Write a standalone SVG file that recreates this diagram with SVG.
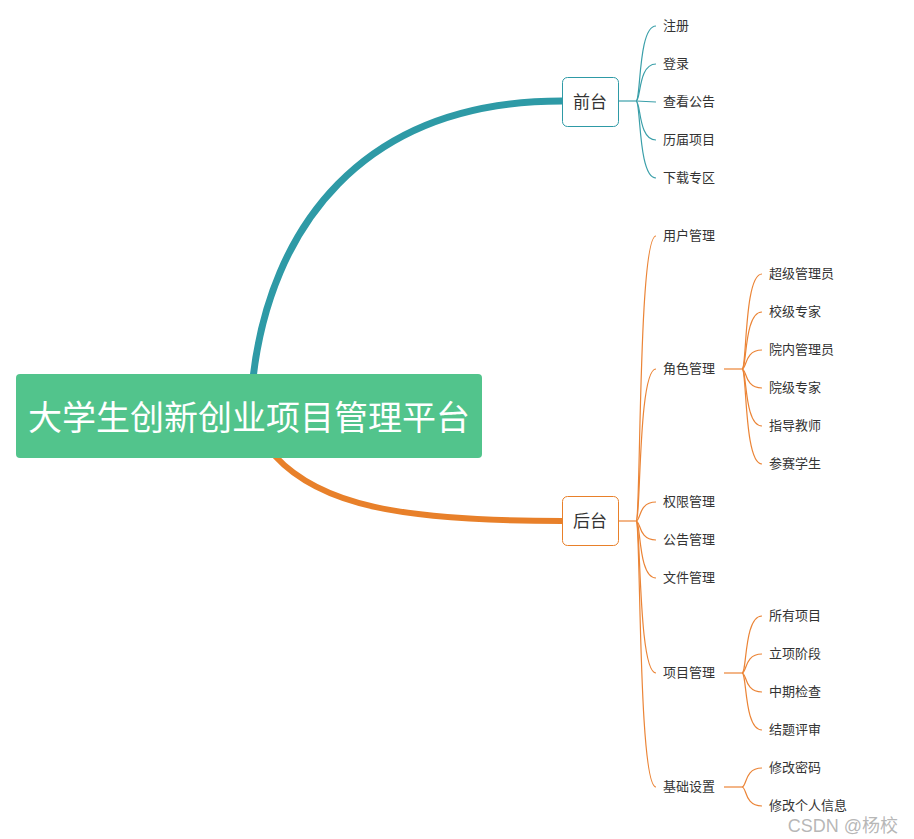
<svg xmlns="http://www.w3.org/2000/svg" width="914" height="839" viewBox="0 0 914 839">
<style>
.t{font-family:"Noto Sans CJK SC","Noto Sans",sans-serif;font-size:13px;fill:#333}
.tl{fill:none;stroke:#3A9FA9;stroke-width:1.2}
.ol{fill:none;stroke:#EB8436;stroke-width:1.2}
.box{fill:#fff;stroke-width:1}
.bt{font-family:"Noto Sans CJK SC","Noto Sans",sans-serif;font-size:17px;fill:#333;text-anchor:middle}
</style>
<rect width="914" height="839" fill="#fff"/>
<g id="connectors">
<path d="M253 378 C270 230 360 101 562 101" fill="none" stroke="#2E9AA6" stroke-width="7"/>
<path d="M275 456 C320 505 400 521 562 521" fill="none" stroke="#E8802A" stroke-width="6"/>
<line x1="618" y1="101" x2="636" y2="101" class="tl"/>
<path class="tl" d="M636 101 C641 101 638 26 656 26"/>
<path class="tl" d="M636 101 C641 101 638 64 656 64"/>
<path class="tl" d="M636 101 L656 102"/>
<path class="tl" d="M636 101 C641 101 638 140 656 140"/>
<path class="tl" d="M636 101 C641 101 638 178 656 178"/>
<line x1="618" y1="521" x2="636" y2="521" class="ol"/>
<path class="ol" d="M636 521 C641 521 638 236 656 236"/>
<path class="ol" d="M636 521 C641 521 638 369 656 369"/>
<path class="ol" d="M636 521 C641 521 638 502 656 502"/>
<path class="ol" d="M636 521 C641 521 638 540 656 540"/>
<path class="ol" d="M636 521 C641 521 638 578 656 578"/>
<path class="ol" d="M636 521 C641 521 638 673 656 673"/>
<path class="ol" d="M636 521 C641 521 638 787 656 787"/>
<line x1="724" y1="369" x2="742" y2="369" class="ol"/>
<path class="ol" d="M742 369 C747 369 744 274 762 274"/>
<path class="ol" d="M742 369 C747 369 744 312 762 312"/>
<path class="ol" d="M742 369 C747 369 744 350 762 350"/>
<path class="ol" d="M742 369 C747 369 744 388 762 388"/>
<path class="ol" d="M742 369 C747 369 744 426 762 426"/>
<path class="ol" d="M742 369 C747 369 744 464 762 464"/>
<line x1="724" y1="673" x2="742" y2="673" class="ol"/>
<path class="ol" d="M742 673 C747 673 744 616 762 616"/>
<path class="ol" d="M742 673 C747 673 744 654 762 654"/>
<path class="ol" d="M742 673 C747 673 744 692 762 692"/>
<path class="ol" d="M742 673 C747 673 744 730 762 730"/>
<line x1="724" y1="787" x2="742" y2="787" class="ol"/>
<path class="ol" d="M742 787 C747 787 744 768 762 768"/>
<path class="ol" d="M742 787 C747 787 744 806 762 806"/>
</g>
<g id="root">
<rect x="16" y="374" width="466" height="84" rx="4" fill="#52C48C"/>
<text x="249" y="430" text-anchor="middle" font-family="Noto Sans CJK SC, Noto Sans, sans-serif" font-size="34" fill="#fff">大学生创新创业项目管理平台</text>
</g>
<g id="qiantai">
<rect class="box" x="562.5" y="77.5" width="56" height="49" rx="5" stroke="#2E9AA6"/>
<text class="bt" x="590" y="108">前台</text>
</g>
<g id="houtai">
<rect class="box" x="562.5" y="496.5" width="56" height="49" rx="5" stroke="#E8802A"/>
<text class="bt" x="590" y="527">后台</text>
</g>
<g id="n-zhuce"><text class="t" x="663" y="30">注册</text></g>
<g id="n-denglu"><text class="t" x="663" y="68">登录</text></g>
<g id="n-ckgg"><text class="t" x="663" y="106">查看公告</text></g>
<g id="n-ljxm"><text class="t" x="663" y="144">历届项目</text></g>
<g id="n-xzzq"><text class="t" x="663" y="182">下载专区</text></g>
<g id="n-yhgl"><text class="t" x="663" y="240">用户管理</text></g>
<g id="n-jsgl"><text class="t" x="663" y="373">角色管理</text></g>
<g id="n-qxgl"><text class="t" x="663" y="506">权限管理</text></g>
<g id="n-gggl"><text class="t" x="663" y="544">公告管理</text></g>
<g id="n-wjgl"><text class="t" x="663" y="582">文件管理</text></g>
<g id="n-xmgl"><text class="t" x="663" y="677">项目管理</text></g>
<g id="n-jcsz"><text class="t" x="663" y="791">基础设置</text></g>
<g id="n-cjgly"><text class="t" x="769" y="278">超级管理员</text></g>
<g id="n-xjzj"><text class="t" x="769" y="316">校级专家</text></g>
<g id="n-yngly"><text class="t" x="769" y="354">院内管理员</text></g>
<g id="n-yjzj"><text class="t" x="769" y="392">院级专家</text></g>
<g id="n-zdjs"><text class="t" x="769" y="430">指导教师</text></g>
<g id="n-csxs"><text class="t" x="769" y="468">参赛学生</text></g>
<g id="n-syxm"><text class="t" x="769" y="620">所有项目</text></g>
<g id="n-lxjd"><text class="t" x="769" y="658">立项阶段</text></g>
<g id="n-zqjc"><text class="t" x="769" y="696">中期检查</text></g>
<g id="n-jtps"><text class="t" x="769" y="734">结题评审</text></g>
<g id="n-xgmm"><text class="t" x="769" y="772">修改密码</text></g>
<g id="n-xggrxx"><text class="t" x="769" y="810">修改个人信息</text></g>
<text x="898" y="832" text-anchor="end" font-family="Liberation Sans, Noto Sans CJK SC, sans-serif" font-size="18" fill="#aaa" fill-opacity="0.85">CSDN @杨校</text>
</svg>
